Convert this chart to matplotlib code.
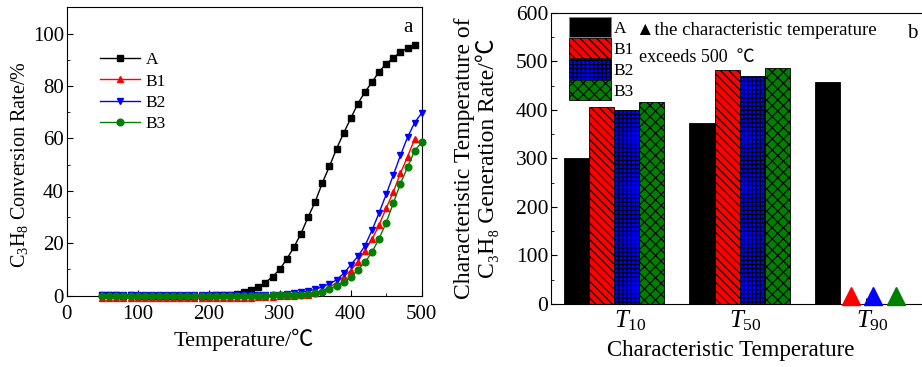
import numpy as np
import matplotlib
matplotlib.use('Agg')
import matplotlib.pyplot as plt
from matplotlib.patches import Patch
from matplotlib.ticker import MultipleLocator, FixedLocator, FixedFormatter, NullFormatter

plt.rcParams['font.family'] = ['Liberation Serif', 'Noto Sans CJK SC', 'DejaVu Serif']
plt.rcParams['mathtext.fontset'] = 'custom'
plt.rcParams['mathtext.rm'] = 'Liberation Serif'
plt.rcParams['mathtext.it'] = 'Liberation Serif:italic'
plt.rcParams['hatch.linewidth'] = 0.8

# panel a: conversion curves
temp_A = list(range(50, 500, 10))
conv_A = [0.2, 0.1, 0.1, 0.0, 0.1, 0.0, 0.0, 0.0, 0.0, 0.0,
          0.0, 0.0, 0.0, 0.0, 0.0, 0.0, 0.1, 0.3, 0.4, 0.7,
          1.4, 2.0, 3.4, 5.0, 7.3, 10.0, 14.0, 18.5, 23.7, 30.0,
          35.8, 43.0, 49.3, 56.0, 62.0, 67.6, 73.2, 77.7, 81.4, 85.5,
          88.4, 90.8, 92.9, 94.5, 95.8]
temp_B1 = list(range(50, 500, 10))
conv_B1 = [-0.8, -0.9, -1.0, -1.0, -1.0, -1.0, -1.0, -1.0, -1.0, -1.0,
           -1.0, -1.0, -0.9, -0.9, -0.9, -0.8, -0.8, -0.8, -0.8, -0.7,
           -0.7, -0.7, -0.6, -0.5, -0.4, -0.3, -0.2, 0.0, 0.1, 0.3,
           1.0, 1.9, 3.2, 5.0, 7.3, 9.6, 13.0, 17.2, 21.5, 27.0,
           33.4, 39.6, 46.7, 53.0, 59.7]
temp_B2 = list(range(50, 510, 10))
conv_B2 = [0.2, 0.2, 0.2, 0.2, 0.2, 0.2, 0.2, 0.2, 0.2, 0.2,
           0.2, 0.2, 0.2, 0.2, 0.2, 0.2, 0.2, 0.2, 0.2, 0.2,
           0.2, 0.2, 0.2, 0.3, 0.3, 0.4, 0.5, 0.9, 1.3, 1.8,
           2.4, 3.4, 4.5, 6.0, 8.5, 11.7, 15.0, 19.0, 25.0, 31.6,
           38.7, 46.0, 53.5, 60.4, 66.0, 69.7]
temp_B3 = list(range(50, 510, 10))
conv_B3 = [0.0, 0.0, 0.0, 0.0, 0.0, 0.0, 0.0, 0.0, 0.0, 0.0,
           0.0, 0.0, 0.0, 0.0, 0.0, 0.0, 0.0, 0.0, 0.0, 0.0,
           0.0, 0.0, 0.0, 0.0, 0.1, 0.1, 0.2, 0.3, 0.4, 0.5,
           0.9, 1.5, 2.5, 3.8, 5.4, 7.0, 9.8, 12.7, 16.6, 21.8,
           27.9, 35.3, 42.7, 49.0, 55.3, 58.5]

# panel b: characteristic temperatures (None = above 500 C)
groups = [r'$\mathit{T}_{\mathrm{10}}$', r'$\mathit{T}_{\mathrm{50}}$', r'$\mathit{T}_{\mathrm{90}}$']
samples = ['A', 'B1', 'B2', 'B3']
char_temp = {
    'A':  [300, 372, 458],
    'B1': [406, 482, None],
    'B2': [400, 470, None],
    'B3': [416, 486, None],
}

colors = {'A': 'black', 'B1': 'red', 'B2': 'blue', 'B3': 'green'}
markers = {'A': 's', 'B1': '^', 'B2': 'v', 'B3': 'o'}
hatches = {'A': None, 'B1': '\\\\\\\\', 'B2': '++++', 'B3': 'xxx'}

fig = plt.figure(figsize=(9.22, 3.67), dpi=100)

# ---- panel a
ax1 = fig.add_axes([0.0723, 0.1943, 0.3851, 0.7858])
series = [('A', temp_A, conv_A), ('B1', temp_B1, conv_B1),
          ('B2', temp_B2, conv_B2), ('B3', temp_B3, conv_B3)]
for name, t, c in series:
    ax1.plot(t, c, color=colors[name], marker=markers[name], markersize=4.8,
             linewidth=1.0, label=name, clip_on=False, zorder=3)
ax1.set_xlim(0, 500)
ax1.set_ylim(0, 110)
ax1.xaxis.set_major_locator(MultipleLocator(100))
ax1.xaxis.set_minor_locator(MultipleLocator(50))
ax1.yaxis.set_major_locator(MultipleLocator(20))
ax1.yaxis.set_minor_locator(MultipleLocator(10))
ax1.set_yticks([0, 20, 40, 60, 80, 100])
ax1.tick_params(which='both', direction='in', top=False, right=False, labelsize=15)
ax1.tick_params(which='major', length=4)
ax1.tick_params(which='minor', length=2.5)
ax1.tick_params(axis='y', pad=2)
ax1.tick_params(axis='x', pad=7)
ax1.set_xlabel('Temperature/℃', fontsize=16, labelpad=3)
ax1.set_ylabel(r'C$_3$H$_8$ Conversion Rate/%', fontsize=14.5)
ax1.yaxis.set_label_coords(-0.103, 0.453)
ax1.text(0.975, 0.93, 'a', transform=ax1.transAxes, fontsize=15, ha='right', va='center')
ax1.legend(loc='upper left', bbox_to_anchor=(0.07, 0.875), frameon=False, fontsize=12.5,
           handlelength=2.3, handletextpad=0.3, labelspacing=0.3, borderpad=0)

# ---- panel b
ax2 = fig.add_axes([0.5976, 0.1717, 0.4095, 0.7937])
pos = np.arange(len(groups))
width = 0.2
for i, name in enumerate(samples):
    off = (i - 1.5) * width
    vals = char_temp[name]
    xs = [p + off for p, v in zip(pos, vals) if v is not None]
    hs = [v for v in vals if v is not None]
    ax2.bar(xs, hs, width, color=colors[name], edgecolor='black', linewidth=0.6,
            hatch=hatches[name], label=name, zorder=2)
    miss = [p + off - 0.02 * i for p, v in zip(pos, vals) if v is None]
    if miss:
        ax2.plot(miss, [16] * len(miss), linestyle='none', marker='^', markersize=13,
                 color=colors[name], clip_on=False, zorder=3)
ax2.set_xlim(-0.5, 2.5)
ax2.set_ylim(0, 600)
# tick marks at group centres, labels drawn slightly to the right as in the source
label_off = [0.127, 0.048, 0.056]
ax2.xaxis.set_major_locator(FixedLocator(pos))
ax2.xaxis.set_major_formatter(NullFormatter())
ax2.xaxis.set_minor_locator(FixedLocator(pos + np.array(label_off)))
ax2.xaxis.set_minor_formatter(FixedFormatter(groups))
ax2.tick_params(axis='x', which='minor', length=0, labelsize=18, pad=3)
ax2.tick_params(axis='x', which='major', length=4, direction='in')
ax2.yaxis.set_major_locator(MultipleLocator(100))
ax2.yaxis.set_minor_locator(MultipleLocator(50))
ax2.tick_params(axis='y', which='both', direction='in', right=False, labelsize=15.5, pad=2)
ax2.tick_params(axis='y', which='minor', length=2.5)
ax2.tick_params(axis='y', which='major', length=4)
ax2.set_xlabel('Characteristic Temperature', fontsize=16.5)
ax2.xaxis.set_label_coords(0.477, -0.125)
ax2.set_ylabel('Characteristic Temperature of\nC₃H₈ Generation Rate/℃',
               fontsize=17, linespacing=1.0)
ax2.yaxis.set_label_coords(-0.138, 0.5)
handles = [Patch(facecolor=colors[n], edgecolor='black' if n != 'A' else '0.5',
                 hatch=hatches[n], linewidth=0.6) for n in samples]
ax2.legend(handles, samples, loc='upper left', bbox_to_anchor=(0.026, 1.015), frameon=False,
           fontsize=12.5, handlelength=2.4, handleheight=1.4, handletextpad=0.15,
           labelspacing=0.05, borderpad=0)
ax2.text(0.225, 0.94, '▲the characteristic temperature', transform=ax2.transAxes,
         fontsize=13.5, ha='left', va='center')
ax2.text(0.232, 0.845, 'exceeds 500  ℃', transform=ax2.transAxes,
         fontsize=13, ha='left', va='center')
ax2.text(0.942, 0.93, 'b', transform=ax2.transAxes, fontsize=15, ha='left', va='center')

fig.savefig('out.png', dpi=100)
